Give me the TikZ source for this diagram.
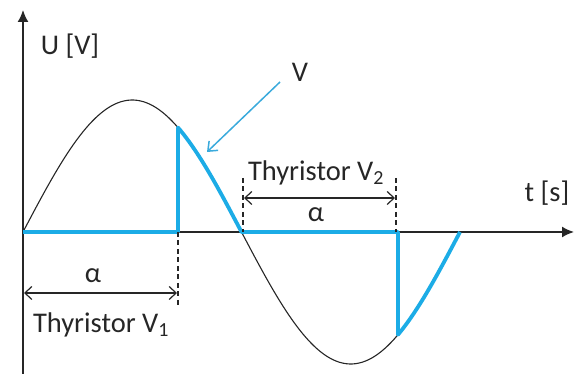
\documentclass[tikz,border=0pt]{standalone}
\usepackage{fontspec}
\setmainfont{Carlito}
\usetikzlibrary{arrows.meta}
\definecolor{wblue}{HTML}{1CACE6}
\definecolor{ablue}{HTML}{3AAADC}
\begin{document}
\begin{tikzpicture}[x=1pt,y=-1pt,
  lbl/.style={font=\fontsize{28.5}{30}\selectfont, text=black!85, inner sep=0pt},
  axis/.style={line width=1.6pt, black!85, -{Latex[length=12pt,width=11pt]}},
  wave/.style={line width=1.1pt, black!85},
  cut/.style={line width=3.8pt, wblue, line join=round},
  guide/.style={line width=1.1pt, black!85, dash pattern=on 5pt off 3.5pt},
  dim/.style={line width=1.2pt, black!85, {Straight Barb[length=7pt,width=13pt]}-{Straight Barb[length=7pt,width=13pt]}}]
\useasboundingbox (0,0) rectangle (574,374);
% axes
\coordinate (o) at (23,232);
\coordinate (ybot) at (23,374);
\coordinate (ytop) at (23,10);
\coordinate (xend) at (574,232);
% sine (black)
\draw[wave] plot[domain=23:400, samples=120] (\x, {232-132*sin((\x-23)/218.5*180)});
% controlled output (blue)
\coordinate (f1) at (178,232);
\coordinate (f1t) at (178,{232-132*sin((178-23)/218.5*180)});
\coordinate (z1) at (241.5,232);
\coordinate (f2) at (398,232);
\coordinate (f2b) at (398,{232-132*sin((398-23)/218.5*180)});
\coordinate (z2) at (460,232);
\draw[axis] (ybot) -- (ytop);
\draw[axis] (o) -- (xend);
\draw[cut] (o) -- (f1) -- (f1t)
  -- plot[domain=178:241.5, samples=40] (\x, {232-132*sin((\x-23)/218.5*180)})
  -- (f2) -- (f2b)
  -- plot[domain=398:460, samples=40] (\x, {232-132*sin((\x-23)/218.5*180)});
% dashed guides
\coordinate (g1) at (178,307);
\coordinate (g2t) at (243,178);
\coordinate (g2b) at (243,232);
\coordinate (g3t) at (396,178);
\coordinate (g3b) at (396,232);
\draw[guide] (f1) -- (g1);
\draw[guide] (g2t) -- (g2b);
\draw[guide] (g3t) -- (g3b);
% dimension arrows
\coordinate (d1a) at (24,293);
\coordinate (d1b) at (177,293);
\coordinate (d2a) at (244,198);
\coordinate (d2b) at (395,198);
\draw[dim] (d1a) -- (d1b);
\draw[dim] (d2a) -- (d2b);
% labels
\node[lbl] (ulab) at (70,46) {U [V]};
\node[lbl] (tlab) at (547,193) {t [s]};
\node[lbl] (vlab) at (300,72) {V};
\node[lbl] (a1) at (93,276) {α};
\node[lbl] (a2) at (316,215) {α};
\node[lbl] (th1) at (101,325) {Thyristor V\textsubscript{1}};
\node[lbl] (th2) at (316,173) {Thyristor V\textsubscript{2}};
% pointer
\coordinate (vp) at (207,152);
\draw[ablue, line width=1.5pt, -{Straight Barb[length=8pt,width=13pt]}] (280,82) -- (vp);
\end{tikzpicture}
\end{document}
